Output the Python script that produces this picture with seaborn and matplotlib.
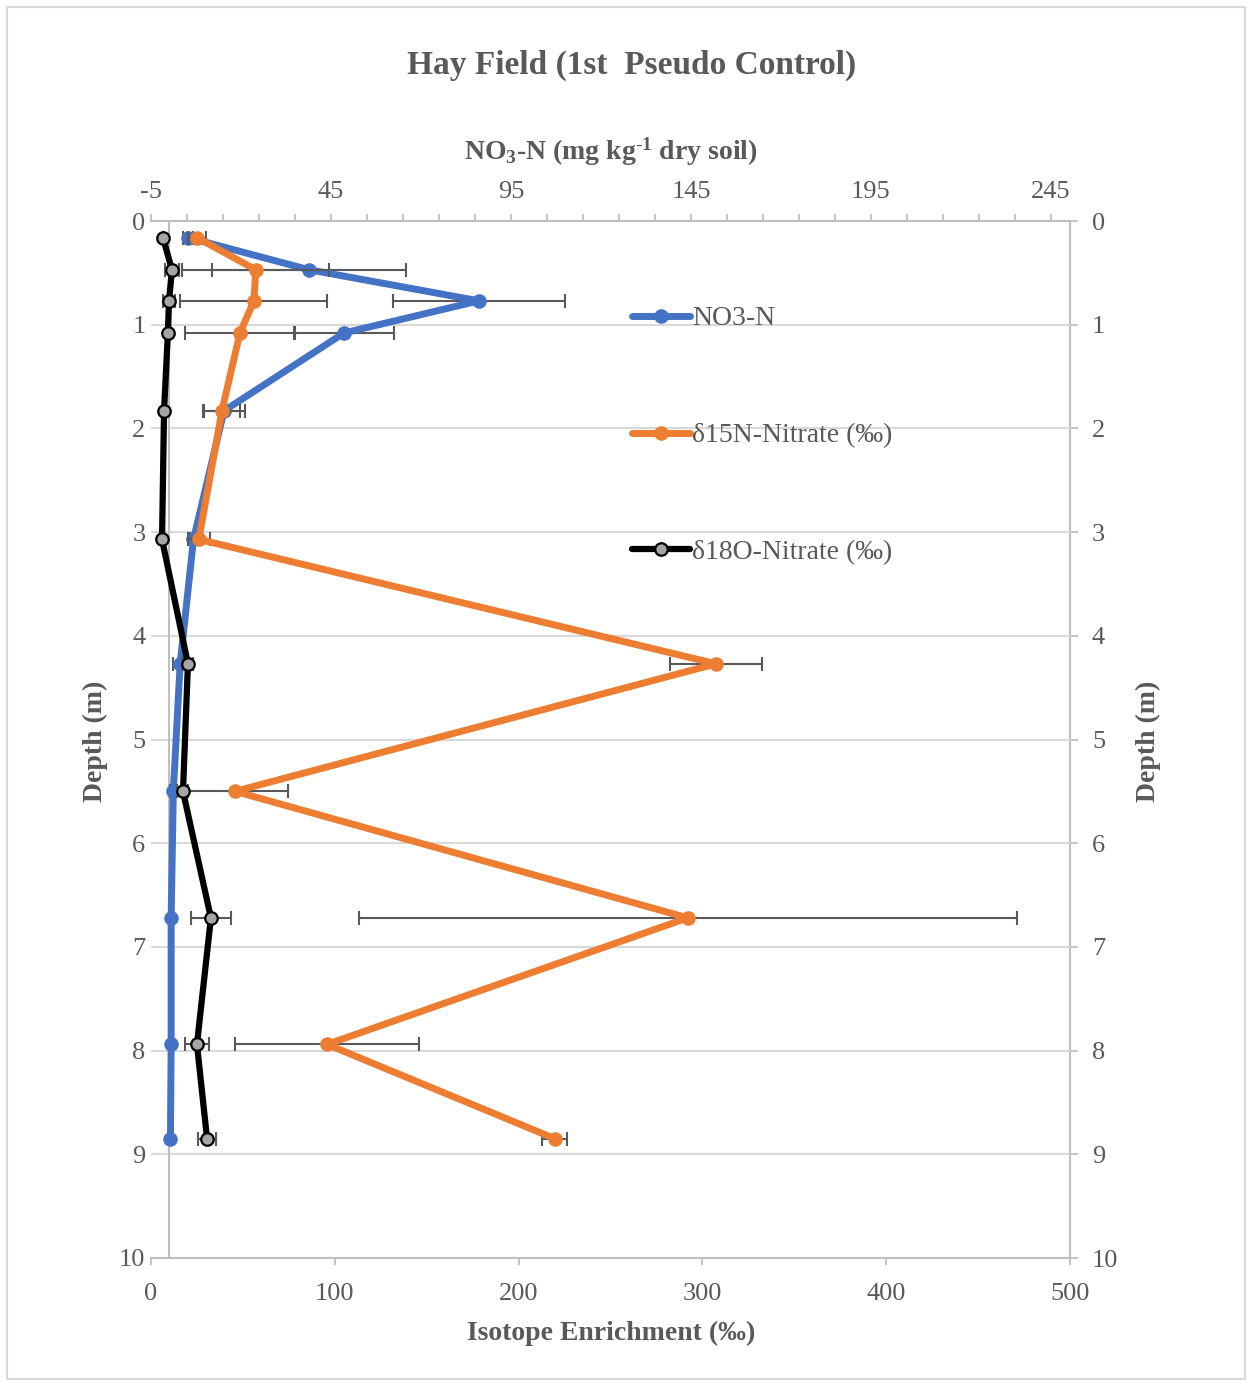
import numpy as np
import pandas as pd
import matplotlib
matplotlib.use("Agg")
import matplotlib.pyplot as plt
import matplotlib.patches as mpatches
import seaborn as sns
from matplotlib.ticker import FixedLocator

# ---------------- data ----------------
depth = [0.16, 0.47, 0.77, 1.08, 1.83, 3.07, 4.27, 5.50, 6.72, 7.94, 8.85]
no3_n = [5.3, 38.9, 86.1, 48.6, 15.3, 6.8, 3.1, 1.2, 0.6, 0.6, 0.4]
no3_n_err = [1.5, 27.0, 24.0, 14.0, 5.8, 1.0, 2.0, 1.0, 0.3, 0.3, 0.3]
d15n = [25.0, 57.0, 56.0, 48.4, 38.6, 26.0, 307.4, 45.7, 292.0, 95.8, 219.8]
d15n_err = [5.0, 40.0, 40.0, 29.7, 10.0, 5.9, 25.0, 28.6, 179.0, 50.0, 6.8]
d18o = [6.5, 11.4, 9.8, 9.2, 7.1, 6.0, 20.1, 17.4, 32.6, 25.0, 30.5]
d18o_err = [0.0, 3.6, 3.5, 0.0, 0.0, 0.0, 3.0, 3.0, 10.9, 6.7, 4.8]

series_labels = ["NO3-N", "δ15N-Nitrate (‰)", "δ18O-Nitrate (‰)"]
top_ticks = [-5, 45, 95, 145, 195, 245]
bottom_ticks = [0, 100, 200, 300, 400, 500]
depth_ticks = list(range(0, 11))

title = "Hay Field (1st  Pseudo Control)"
top_label = r"NO$_3$-N (mg kg$^{\text{-}1}$ dry soil)"
bottom_label = "Isotope Enrichment (‰)"
depth_label = "Depth (m)"

# ---------------- style ----------------
sns.set_theme(style="white")
plt.rcParams["font.family"] = ["Liberation Serif", "DejaVu Serif"]
plt.rcParams["mathtext.fontset"] = "custom"
plt.rcParams["mathtext.rm"] = "Liberation Serif"
plt.rcParams["mathtext.it"] = "Liberation Serif:italic"
plt.rcParams["mathtext.bf"] = "Liberation Serif:bold"
plt.rcParams["mathtext.default"] = "bf"
plt.rcParams["axes.unicode_minus"] = False

TXT = "#595959"
AXC = "#BFBFBF"
GRID = "#D9D9D9"
BLUE = "#4472C4"
ORANGE = "#ED7D31"
BLACK = "#000000"
GREY = "#A5A5A5"
FS = 19
LFS = 20

df = pd.DataFrame({"depth": depth, "no3": no3_n, "d15n": d15n, "d18o": d18o})

fig = plt.figure(figsize=(12.5, 13.82), dpi=100)
# outer chart border
fig.patches.append(mpatches.Rectangle((7 / 1250, 0.002), 1238 / 1250, 1 - 7 / 1382 - 0.002,
                                      transform=fig.transFigure, fill=False,
                                      edgecolor=GRID, lw=1.5))

ax = fig.add_axes([151 / 1250, 1 - 1258 / 1382, 919 / 1250, 1037 / 1382])
ax_iso = ax.twiny()

# ---- primary (NO3-N, top axis) ----
ax.set_xlim(-5, 250.3)
ax.set_ylim(10, 0)
ax.set_yticks(depth_ticks)
ax.yaxis.grid(True, color=GRID, lw=1.5)
ax.xaxis.grid(False)
ax.set_axisbelow(True)
ax.axvline(0, color=AXC, lw=1.5, zorder=1)

ax.errorbar(no3_n, depth, xerr=no3_n_err, fmt="none", ecolor=TXT,
            elinewidth=1.5, capsize=5, capthick=1.5, zorder=1.5)
sns.lineplot(data=df, x="no3", y="depth", orient="y", sort=False, ax=ax,
             color=BLUE, lw=5.0, marker="o", markersize=10.5, markeredgewidth=0,
             errorbar=None, label=series_labels[0], legend=False, zorder=2)

ax.xaxis.set_ticks_position("top")
ax.xaxis.set_label_position("top")
ax.set_xticks(top_ticks)
ax.xaxis.set_minor_locator(FixedLocator(np.arange(-5, 251, 10)))
ax.tick_params(axis="x", which="both", direction="out", length=5, width=1.3,
               color=AXC, labelcolor=TXT, labelsize=FS, pad=8)
ax.tick_params(axis="y", left=False, right=False, length=0, labelleft=True,
               labelright=False, labelcolor=TXT, labelsize=FS, pad=4)
for s in ["left", "bottom", "right"]:
    ax.spines[s].set_visible(False)
ax.spines["top"].set_visible(True)
ax.spines["top"].set_color(AXC)
ax.spines["top"].set_linewidth(1.5)

# ---- secondary (isotopes, bottom axis) ----
ax_iso.set_xlim(0, 500)
ax_iso.errorbar(d15n, depth, xerr=d15n_err, fmt="none", ecolor=TXT,
                elinewidth=1.5, capsize=5, capthick=1.5, zorder=1.5)
ax_iso.errorbar(d18o, depth, xerr=d18o_err, fmt="none", ecolor=TXT,
                elinewidth=1.5, capsize=5, capthick=1.5, zorder=1.5)
sns.lineplot(data=df, x="d15n", y="depth", orient="y", sort=False, ax=ax_iso,
             color=ORANGE, lw=5.0, marker="o", markersize=10.5, markeredgewidth=0,
             errorbar=None, label=series_labels[1], legend=False, zorder=2)
sns.lineplot(data=df, x="d18o", y="depth", orient="y", sort=False, ax=ax_iso,
             color=BLACK, lw=4.5, marker="o", markersize=9,
             markerfacecolor=GREY, markeredgecolor=BLACK, markeredgewidth=1.6,
             errorbar=None, label=series_labels[2], legend=False, zorder=3)
ax_iso.set_ylim(10, 0)
ax_iso.xaxis.set_ticks_position("bottom")
ax_iso.xaxis.set_label_position("bottom")
ax_iso.set_xticks(bottom_ticks)
ax_iso.tick_params(axis="x", direction="out", length=5, width=1.3, color=AXC,
                   labelcolor=TXT, labelsize=FS, pad=13)
for s in ["left", "top", "right"]:
    ax_iso.spines[s].set_visible(False)
ax_iso.spines["bottom"].set_visible(True)
ax_iso.spines["bottom"].set_color(AXC)
ax_iso.spines["bottom"].set_linewidth(1.5)

# ---- right depth axis ----
sec = ax.secondary_yaxis("right")
sec.set_yticks(depth_ticks)
sec.tick_params(axis="y", direction="out", length=5.8, width=1.3, color=AXC,
                labelcolor=TXT, labelsize=FS, pad=10)
sec.spines["right"].set_color(AXC)
sec.spines["right"].set_linewidth(1.5)
fig.text(1148 / 1250, 1 - 741 / 1382, depth_label, rotation=90, ha="center",
         va="center", fontsize=LFS, fontweight="bold", color=TXT)

# ---- labels ----
ax.set_ylabel(depth_label, fontsize=LFS, fontweight="bold", color=TXT)
ax.yaxis.set_label_coords((95 - 151) / 919, 0.4985)
ax.yaxis.label.set_va("center")
ax.set_xlabel(top_label, fontsize=LFS, fontweight="bold", color=TXT)
ax.xaxis.set_label_coords((611 - 151) / 919, (1258 - 152) / 1037)
ax.xaxis.label.set_va("center")
ax_iso.set_xlabel(bottom_label, fontsize=LFS, fontweight="bold", color=TXT)
ax_iso.xaxis.set_label_coords((611 - 151) / 919, (1258 - 1333) / 1037)
ax_iso.xaxis.label.set_va("center")

fig.text(632 / 1250, 1 - 65 / 1382, title, ha="center", va="center",
         fontsize=24, fontweight="bold", color=TXT)

# ---- legend ----
handles = [h for h in ax.get_lines() if h.get_label() in series_labels] + \
          [h for h in ax_iso.get_lines() if h.get_label() in series_labels]
labels = [h.get_label() for h in handles]
for a in (ax, ax_iso):
    if a.get_legend() is not None:
        a.get_legend().remove()
leg = ax_iso.legend(handles, labels, loc="upper left",
                    bbox_to_anchor=(632 / 1250, 1 - 306 / 1382),
                    bbox_transform=fig.transFigure, frameon=False,
                    fontsize=LFS, labelcolor=TXT, handlelength=2.09,
                    handletextpad=0.08, labelspacing=3.29, borderpad=0,
                    borderaxespad=0, numpoints=1)

fig.savefig("out.png", dpi=100)
